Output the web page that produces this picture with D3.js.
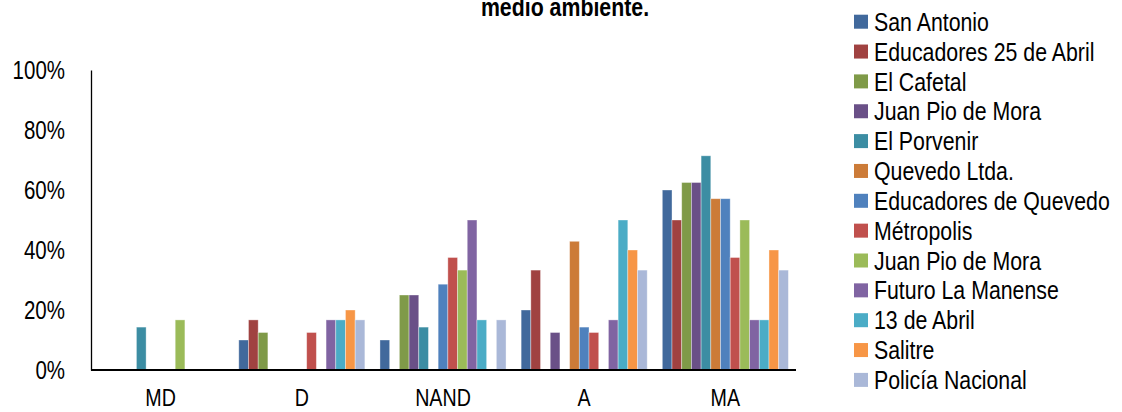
<!DOCTYPE html>
<html>
<head>
<meta charset="utf-8">
<script src="https://cdn.jsdelivr.net/npm/d3@7"></script>
<style>
  body { margin: 0; background: #fff; }
  text { font-family: "Liberation Sans", Arial, sans-serif; fill: #000; }
</style>
</head>
<body>
<div id="chart"></div>
<script>
  // data
  var categories = ["MD", "D", "NAND", "A", "MA"]
  var schools = ["San Antonio", "Educadores 25 de Abril", "El Cafetal", "Juan Pio de Mora",
    "El Porvenir", "Quevedo Ltda.", "Educadores de Quevedo", "Métropolis", "Juan Pio de Mora",
    "Futuro La Manense", "13 de Abril", "Salitre", "Policía Nacional"]
  var colors = ["#41699c", "#a04241", "#7f9a48", "#6a5087", "#3c8da3", "#cc7b38", "#4f81bd",
    "#c0504d", "#9bbb59", "#8064a2", "#4bacc6", "#f79646", "#aab8d8"]

  // one array per category, values in school order
  var valuesMD   = [0, 0, 0, 0, 0.143, 0, 0, 0, 0.167, 0, 0, 0, 0]
  var valuesD    = [0.10, 0.167, 0.125, 0, 0, 0, 0, 0.125, 0, 0.167, 0.167, 0.20, 0.167]
  var valuesNAND = [0.10, 0, 0.25, 0.25, 0.143, 0, 0.286, 0.375, 0.333, 0.50, 0.167, 0, 0.167]
  var valuesA    = [0.20, 0.333, 0, 0.125, 0, 0.429, 0.143, 0.125, 0, 0.167, 0.50, 0.40, 0.333]
  var valuesMA   = [0.60, 0.50, 0.625, 0.625, 0.714, 0.571, 0.571, 0.375, 0.50, 0.167, 0.167, 0.40, 0.333]
  var yTicks = [0, 0.2, 0.4, 0.6, 0.8, 1]

  var seriesByCat = [valuesMD, valuesD, valuesNAND, valuesA, valuesMA]

  var width = 1122, height = 412
  // no narrow font installed, so squeeze text horizontally
  var narrow = 0.82

  var svg = d3.select("#chart")
    .append("svg")
    .attr("width", width)
    .attr("height", height)

  var xScale = d3.scaleBand().domain(categories).range([90, 796])
    .paddingInner(0.107).paddingOuter(0.054)
  var innerScale = d3.scaleBand().domain(d3.range(schools.length)).range([0, xScale.bandwidth()])
  var yScale = d3.scaleLinear().domain([0, 1]).range([370, 70])

  // title (first line is cut off in the source)
  svg.append("g")
    .attr("transform", "translate(565,16) scale(" + narrow + ",1)")
    .append("text")
    .attr("text-anchor", "middle")
    .style("font-size", "26px")
    .style("font-weight", "bold")
    .text("medio ambiente.")

  // bars
  var groups = svg.selectAll(".grp")
    .data(categories)
    .enter().append("g")
    .attr("class", "grp")
    .attr("transform", d => "translate(" + xScale(d) + ",0)")

  groups.selectAll("rect")
    .data((d, i) => seriesByCat[i].map((v, j) => ({ v: v, j: j })).filter(e => e.v > 0))
    .enter().append("rect")
    .attr("x", d => innerScale(d.j))
    .attr("width", innerScale.bandwidth())
    .attr("y", d => yScale(d.v))
    .attr("height", d => yScale(0) - yScale(d.v))
    .attr("fill", d => colors[d.j])
    .attr("stroke", "#fff")
    .attr("stroke-opacity", 0.45)
    .attr("stroke-width", 0.8)

  // y axis
  var yAxis = d3.axisLeft(yScale).tickValues(yTicks).tickFormat(d3.format(".0%"))
    .tickSize(0).tickPadding(26 / narrow)
  var gy = svg.append("g")
    .attr("transform", "translate(91,0)")
    .call(yAxis)
  gy.select(".domain").attr("stroke", "#000").attr("stroke-width", 1.3)
  gy.selectAll("text")
    .attr("transform", "scale(" + narrow + ",1)")
    .style("font-size", "25px").style("font-family", null)

  // x axis
  var xAxis = d3.axisBottom(xScale).tickSize(0).tickPadding(19)
  var gx = svg.append("g")
    .attr("transform", "translate(0,370)")
    .call(xAxis)
  gx.select(".domain").attr("d", "M91,0H796").attr("stroke", "#000").attr("stroke-width", 1.8)
  gx.selectAll("text")
    .attr("transform", "scale(" + narrow + ",1)")
    .style("font-size", "24px").style("font-family", null)

  // legend
  var legend = svg.selectAll(".leg")
    .data(schools)
    .enter().append("g")
    .attr("class", "leg")
    .attr("transform", (d, i) => "translate(854," + (21.7 + i * 29.85) + ")")

  legend.append("rect")
    .attr("x", 0)
    .attr("y", -7)
    .attr("width", 14)
    .attr("height", 14)
    .attr("fill", (d, i) => colors[i])

  legend.append("text")
    .attr("transform", "translate(20,0) scale(" + narrow + ",1)")
    .attr("dy", "0.35em")
    .style("font-size", "26px")
    .text(d => d)
</script>
</body>
</html>
